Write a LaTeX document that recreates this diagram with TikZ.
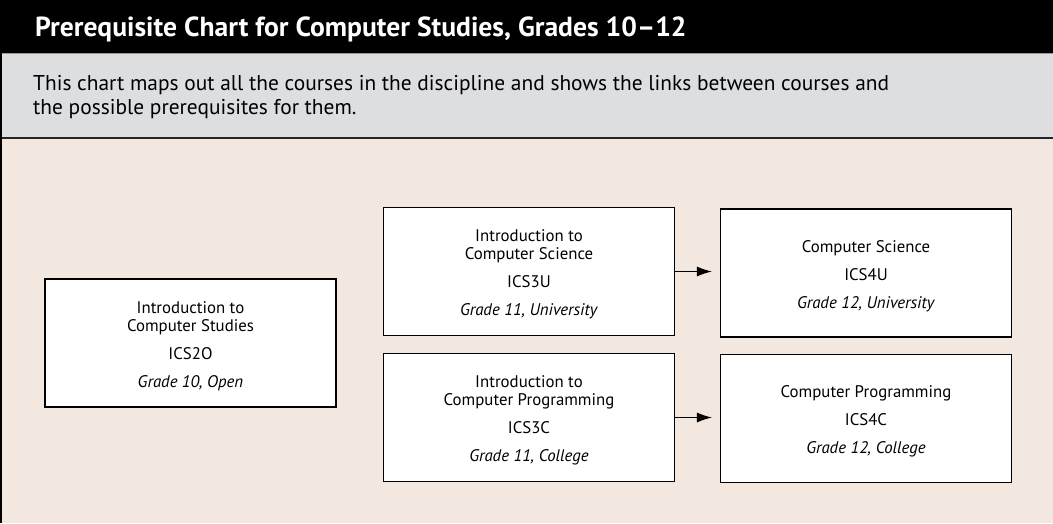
\documentclass[tikz,border=0pt]{standalone}
\usepackage{fontspec}
\setmainfont{PT Sans}
\usetikzlibrary{arrows.meta}
\definecolor{beige}{HTML}{F3E8DF}
\definecolor{bandgray}{HTML}{DDDEE0}
\tikzset{
  course/.style={draw=black, line width=1.2pt, fill=white, minimum width=291pt, minimum height=128pt, inner sep=0pt},
  coursetext/.style={align=center, yshift=-3pt, font=\fontsize{16.8}{17.5}\selectfont},
  link/.style={line width=1pt, -{Latex[length=15pt,width=10pt]}}
}
\begin{document}
\begin{tikzpicture}[x=1pt,y=-1pt]
\useasboundingbox (0,0) rectangle (1053,523);
% bands
\fill[beige] (0,138) rectangle (1053,523);
\fill[bandgray] (0,53) rectangle (1053,138);
\fill[black] (0,0) rectangle (1053,53);
\draw[line width=1.3pt, black!85] (0,138) -- (1053,138);
\draw[line width=0.8pt, black!40] (0,53.5) -- (1053,53.5);
\draw[line width=2pt] (1,0) -- (1,523);
% title
\node[anchor=base west, text=white, font=\fontsize{27.6}{30}\bfseries\selectfont, inner sep=0pt] (title) at (35,36) {Prerequisite Chart for Computer Studies, Grades 10--12};
\node[anchor=base west, align=left, font=\fontsize{21.4}{24}\selectfont, inner sep=0pt] (intro) at (33,114) {This chart maps out all the courses in the discipline and shows the links between courses and\\the possible prerequisites for them.};
% boxes
\node[course] (ics2o) at (190.5,343) {};
\node[course] (ics3u) at (529,271.5) {};
\node[course] (ics4u) at (866,273) {};
\node[course] (ics3c) at (529,417.5) {};
\node[course] (ics4c) at (866,418.5) {};
% texts
\node[coursetext] (t2o) at (ics2o) {Introduction to\\Computer Studies\\[10.5pt]ICS2O\\[10.5pt]\textit{Grade 10, Open}};
\node[coursetext] (t3u) at (ics3u) {Introduction to\\Computer Science\\[10.5pt]ICS3U\\[10.5pt]\textit{Grade 11, University}};
\node[coursetext] (t4u) at (ics4u) {Computer Science\\[10.5pt]ICS4U\\[10.5pt]\textit{Grade 12, University}};
\node[coursetext] (t3c) at (ics3c) {Introduction to\\Computer Programming\\[10.5pt]ICS3C\\[10.5pt]\textit{Grade 11, College}};
\node[coursetext] (t4c) at (ics4c) {Computer Programming\\[10.5pt]ICS4C\\[10.5pt]\textit{Grade 12, College}};
% links
\coordinate (e1) at ([xshift=-8pt]ics4u.west |- ics3u.east);
\coordinate (e2) at ([xshift=-8pt]ics4c.west |- ics3c.east);
\draw[link] (ics3u.east) -- (e1);
\draw[link] (ics3c.east) -- (e2);
\end{tikzpicture}
\end{document}
